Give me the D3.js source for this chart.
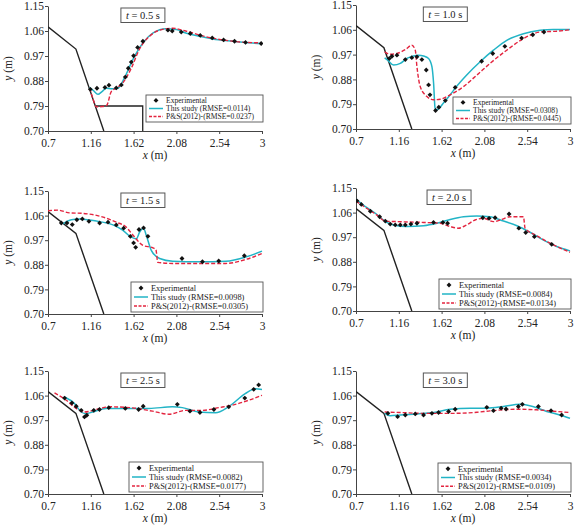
<!DOCTYPE html>
<html>
<head>
<meta charset="utf-8">
<script src="https://cdn.jsdelivr.net/npm/d3@7"></script>
<style>
  body { margin: 0; background: #fff; }
  text { font-family: "Liberation Serif", "DejaVu Serif", serif; fill: #222; }
</style>
</head>
<body>
<svg id="chart" width="583" height="526"></svg>
<script>
// ---- data ----
const xTicks = [0.7, 1.16, 1.62, 2.08, 2.54, 3];
const yTicks = [0.70, 0.79, 0.88, 0.97, 1.06, 1.15];
const times = ['0.5', '1.0', '1.5', '2.0', '2.5', '3.0'];
const rmseThis = ['0.0114', '0.0308', '0.0098', '0.0084', '0.0082', '0.0034'];
const rmsePS = ['0.0237', '0.0445', '0.0305', '0.0134', '0.0177', '0.0109'];

// bed profile (same in every panel) and the step drawn at t = 0.5 s
const bed = [[0.7, 1.075], [1.0, 0.995], [1.30, 0.70]];
const step05 = [[1.205, 0.79], [1.718, 0.79], [1.718, 0.70]];

const exp05 = [[1.155,0.850],[1.226,0.854],[1.312,0.857],[1.355,0.865],[1.434,0.855],[1.488,0.866],[1.531,0.894],[1.563,0.926],[1.595,0.948],[1.62,0.971],[1.663,1.001],[1.72,1.023],[1.989,1.063],[2.035,1.06],[2.132,1.056],[2.229,1.051],[2.336,1.044],[2.465,1.035],[2.587,1.028],[2.705,1.023],[2.823,1.019],[2.991,1.015]];
const this05 = [[1.147,0.857],[1.19,0.845],[1.237,0.832],[1.28,0.842],[1.326,0.854],[1.39,0.852],[1.45,0.854],[1.52,0.89],[1.61,0.956],[1.72,1.017],[1.83,1.053],[1.97,1.068],[2.08,1.065],[2.18,1.053],[2.33,1.041],[2.47,1.031],[2.69,1.023],[3.0,1.014]];
const ps05 = [[1.147,0.855],[1.18,0.82],[1.22,0.787],[1.28,0.788],[1.33,0.792],[1.38,0.842],[1.43,0.854],[1.5,0.872],[1.595,0.926],[1.68,0.993],[1.79,1.041],[1.9,1.063],[2.04,1.07],[2.18,1.06],[2.4,1.039],[2.69,1.023],[3.0,1.017]];

const exp10 = [[1.058,0.956],[1.086,0.964],[1.14,0.968],[1.23,0.952],[1.3,0.959],[1.355,0.962],[1.408,0.952],[1.455,0.914],[1.48,0.86],[1.495,0.824],[1.555,0.767],[1.59,0.779],[1.66,0.803],[1.766,0.851],[2.05,0.946],[2.17,0.974],[2.3,1.0],[2.48,1.03],[2.6,1.042],[2.72,1.052]];
const this10 = [[1.008,0.958],[1.04,0.95],[1.104,0.932],[1.176,0.938],[1.247,0.956],[1.319,0.965],[1.372,0.968],[1.426,0.965],[1.48,0.956],[1.516,0.926],[1.534,0.866],[1.55,0.776],[1.57,0.77],[1.64,0.794],[1.712,0.824],[1.78,0.854],[1.89,0.896],[2.034,0.944],[2.177,0.986],[2.32,1.022],[2.5,1.046],[2.68,1.058],[2.82,1.061],[3.0,1.061]];
const ps10 = [[1.008,0.98],[1.068,0.971],[1.14,0.974],[1.23,0.988],[1.3,1.004],[1.337,0.986],[1.355,0.926],[1.39,0.854],[1.462,0.818],[1.534,0.806],[1.605,0.808],[1.712,0.824],[1.855,0.854],[2.0,0.896],[2.14,0.938],[2.32,0.986],[2.5,1.028],[2.68,1.052],[2.86,1.055],[3.0,1.06]];

const exp15 = [[0.843,1.033],[0.904,1.033],[0.961,1.027],[1.01,1.045],[1.069,1.048],[1.14,1.039],[1.255,1.033],[1.345,1.036],[1.434,1.026],[1.513,1.014],[1.585,0.984],[1.62,0.96],[1.642,0.944],[1.678,1.009],[1.727,1.015],[1.774,0.984],[2.14,0.903],[2.36,0.891],[2.535,0.894],[2.81,0.913]];
const this15 = [[0.861,1.03],[0.951,1.045],[1.04,1.048],[1.148,1.044],[1.255,1.038],[1.398,1.026],[1.506,1.006],[1.595,0.981],[1.649,0.975],[1.685,1.0],[1.727,1.014],[1.756,0.988],[1.81,0.933],[1.9,0.903],[2.04,0.893],[2.33,0.891],[2.61,0.893],[2.83,0.909],[3.0,0.93]];
const ps15 = [[0.7,1.078],[0.807,1.08],[0.93,1.07],[1.076,1.068],[1.255,1.058],[1.434,1.036],[1.54,1.018],[1.61,0.99],[1.72,0.951],[1.828,0.942],[1.86,0.935],[1.88,0.889],[2.04,0.885],[2.33,0.885],[2.61,0.885],[2.83,0.9],[3.0,0.921]];

const exp20 = [[0.71,1.103],[0.757,1.09],[0.854,1.065],[0.954,1.045],[1.015,1.029],[1.068,1.018],[1.122,1.015],[1.176,1.015],[1.23,1.015],[1.29,1.018],[1.355,1.021],[1.533,1.024],[1.634,1.024],[1.684,1.021],[2.063,1.041],[2.13,1.039],[2.195,1.041],[2.345,1.055],[2.45,1.003],[2.524,0.987],[2.617,0.972],[2.803,0.944]];
const this20 = [[0.7,1.109],[0.818,1.078],[0.925,1.053],[1.015,1.027],[1.104,1.015],[1.247,1.009],[1.426,1.012],[1.57,1.021],[1.712,1.035],[1.855,1.045],[2.0,1.048],[2.14,1.045],[2.285,1.029],[2.43,1.012],[2.57,0.988],[2.71,0.96],[2.857,0.936],[3.0,0.92]];
const ps20 = [[0.7,1.102],[0.818,1.075],[0.925,1.051],[1.015,1.029],[1.14,1.027],[1.426,1.024],[1.605,1.021],[1.712,1.009],[1.8,1.003],[1.89,1.015],[1.98,1.033],[2.07,1.039],[2.177,1.027],[2.25,1.033],[2.36,1.045],[2.5,1.045],[2.517,1.003],[2.64,0.976],[2.785,0.948],[3.0,0.915]];

const exp25 = [[0.878,1.051],[0.957,1.033],[1.003,1.021],[1.057,1.006],[1.092,0.982],[1.117,0.988],[1.192,1.006],[1.253,1.009],[1.353,1.016],[1.531,1.013],[1.674,1.009],[1.723,1.021],[2.09,1.028],[2.226,1.003],[2.333,0.998],[2.483,1.009],[2.643,1.019],[2.815,1.051],[2.911,1.083],[2.964,1.099]];
const this25 = [[0.878,1.055],[0.985,1.031],[1.057,1.0],[1.11,0.994],[1.18,1.0],[1.324,1.013],[1.538,1.013],[1.788,1.013],[2.037,1.019],[2.144,1.016],[2.32,1.0],[2.5,0.997],[2.64,1.019],[2.82,1.067],[2.93,1.085],[3.0,1.082]];
const ps25 = [[0.77,1.07],[0.896,1.043],[1.003,1.013],[1.092,1.0],[1.217,1.009],[1.36,1.019],[1.61,1.015],[1.823,1.003],[2.0,0.992],[2.18,1.006],[2.358,1.006],[2.537,1.016],[2.68,1.025],[2.857,1.043],[3.0,1.061]];

const exp30 = [[1.043,0.995],[1.147,0.983],[1.23,0.989],[1.337,0.993],[1.426,0.989],[1.516,0.995],[1.587,0.998],[1.695,1.002],[1.766,1.01],[2.106,1.017],[2.177,1.005],[2.26,1.014],[2.313,1.011],[2.445,1.02],[2.488,1.028],[2.66,1.02],[2.796,1.005],[2.91,0.989]];
const this30 = [[1.008,0.995],[1.068,0.986],[1.176,0.989],[1.355,0.993],[1.534,0.998],[1.712,1.01],[1.927,1.014],[2.106,1.014],[2.285,1.02],[2.46,1.028],[2.6,1.02],[2.75,1.002],[2.89,0.989],[3.0,0.977]];
const ps30 = [[1.008,1.0],[1.176,0.998],[1.426,0.995],[1.712,0.995],[2.0,0.999],[2.14,1.004],[2.43,1.01],[2.64,1.008],[2.82,1.003],[3.0,0.998]];

const expSets = [exp05, exp10, exp15, exp20, exp25, exp30];
const thisSets = [this05, this10, this15, this20, this25, this30];
const psSets = [ps05, ps10, ps15, ps20, ps25, ps30];

// ---- layout of the six panels (pixels) ----
const panels = [
  { x0: 48,  x1: 262, y0: 6,   y1: 131, lw: 117, lh: 27, lfs: 7.6, lb: 9, tx: 1.72 },
  { x0: 356, x1: 570, y0: 5,   y1: 129, lw: 118, lh: 27, lfs: 7.6, lb: 5, tx: 1.66 },
  { x0: 48,  x1: 262, y0: 191, y1: 314, lw: 132, lh: 30, lfs: 8.4, lb: 2, tx: 1.72 },
  { x0: 356, x1: 570, y0: 188, y1: 311, lw: 132, lh: 30, lfs: 8.4, lb: 2, tx: 1.70 },
  { x0: 48,  x1: 262, y0: 371, y1: 494, lw: 134, lh: 30, lfs: 8.4, lb: 2, tx: 1.72 },
  { x0: 356, x1: 570, y0: 371, y1: 494, lw: 133, lh: 29, lfs: 8.4, lb: 2, tx: 1.66 }
];

const cyan = '#22b4c6';
const red = '#e3243f';
const marker = d3.symbol(d3.symbolDiamond2, 15);

const svg = d3.select('#chart');

panels.forEach((p, i) => {
  const x = d3.scaleLinear().domain([0.7, 3]).range([p.x0, p.x1]);
  const y = d3.scaleLinear().domain([0.70, 1.15]).range([p.y1, p.y0]);
  const g = svg.append('g');

  g.append('clipPath').attr('id', 'clip' + i)
    .append('rect')
    .attr('x', p.x0).attr('y', p.y0 - 2)
    .attr('width', p.x1 - p.x0 + 1).attr('height', p.y1 - p.y0 + 2);

  // axes
  const xAxis = d3.axisBottom(x).tickValues(xTicks).tickSize(3).tickSizeOuter(0)
    .tickFormat(d => String(d));
  const yAxis = d3.axisLeft(y).tickValues(yTicks).tickSize(3).tickSizeOuter(0)
    .tickFormat(d3.format('.2f'));

  const gx = g.append('g').attr('transform', `translate(0,${p.y1})`).call(xAxis);
  const gy = g.append('g').attr('transform', `translate(${p.x0},0)`).call(yAxis);
  [gx, gy].forEach(a => {
    a.select('.domain').attr('stroke', '#444').attr('stroke-width', 1);
    a.selectAll('.tick line').attr('stroke', '#444');
    a.selectAll('.tick text')
      .attr('font-family', '"Liberation Serif", serif')
      .attr('font-size', 11.5).attr('fill', '#333');
  });
  gx.selectAll('.tick text').attr('dy', '0.9em');
  gy.selectAll('.tick text').attr('x', -4);

  // axis titles
  const xl = g.append('text')
    .attr('x', (p.x0 + p.x1) / 2).attr('y', p.y1 + 28)
    .attr('text-anchor', 'middle').attr('font-size', 11.5);
  xl.append('tspan').attr('font-style', 'italic').text('x');
  xl.append('tspan').text(' (m)');

  const yl = g.append('text')
    .attr('transform', `translate(${p.x0 - 36},${(p.y0 + p.y1) / 2}) rotate(-90)`)
    .attr('text-anchor', 'middle').attr('font-size', 11.5);
  yl.append('tspan').attr('font-style', 'italic').text('y');
  yl.append('tspan').text(' (m)');

  const plot = g.append('g').attr('clip-path', `url(#clip${i})`);
  const line = d3.line().x(d => x(d[0])).y(d => y(d[1]));
  const smooth = d3.line().x(d => x(d[0])).y(d => y(d[1])).curve(d3.curveMonotoneX);

  // bed
  plot.append('path').datum(bed).attr('d', line)
    .attr('fill', 'none').attr('stroke', '#222').attr('stroke-width', 1.4);
  if (i === 0) {
    plot.append('path').datum(step05).attr('d', line)
      .attr('fill', 'none').attr('stroke', '#222').attr('stroke-width', 1.3);
  }

  // model lines
  plot.append('path').datum(thisSets[i]).attr('d', smooth)
    .attr('fill', 'none').attr('stroke', cyan).attr('stroke-width', 1.5);
  plot.append('path').datum(psSets[i]).attr('d', smooth)
    .attr('fill', 'none').attr('stroke', red).attr('stroke-width', 1.4)
    .attr('stroke-dasharray', '4,2');

  // experimental points
  plot.selectAll('.pt').data(expSets[i]).enter().append('path')
    .attr('class', 'pt')
    .attr('transform', d => `translate(${x(d[0])},${y(d[1])})`)
    .attr('d', marker)
    .attr('fill', '#111');

  // time box
  const tcx = x(p.tx);
  g.append('rect')
    .attr('x', tcx - 22).attr('y', p.y0 + 2)
    .attr('width', 44).attr('height', 14.5)
    .attr('fill', '#fff').attr('stroke', '#555').attr('stroke-width', 1);
  const tt = g.append('text')
    .attr('x', tcx).attr('y', p.y0 + 13)
    .attr('text-anchor', 'middle').attr('font-size', 10.5);
  tt.append('tspan').attr('font-style', 'italic').text('t');
  tt.append('tspan').text(' = ' + times[i] + ' s');

  // legend
  const lx = p.x1 + 1 - p.lw;
  const ly = p.y1 - p.lb - p.lh;
  const lg = g.append('g').attr('transform', `translate(${lx},${ly})`);
  lg.append('rect').attr('width', p.lw).attr('height', p.lh)
    .attr('fill', '#fff').attr('stroke', '#555').attr('stroke-width', 0.9);
  const rows = [
    'Experimental',
    `This study (RMSE=${rmseThis[i]})`,
    `P&S(2012)-(RMSE=${rmsePS[i]})`
  ];
  rows.forEach((label, r) => {
    const cy = p.lh * (0.2 + 0.3 * r);
    if (r === 0) {
      lg.append('path').attr('transform', `translate(10,${cy})`)
        .attr('d', marker).attr('fill', '#111');
    } else {
      lg.append('line').attr('x1', 3).attr('x2', 17).attr('y1', cy).attr('y2', cy)
        .attr('stroke', r === 1 ? cyan : red).attr('stroke-width', 1.5)
        .attr('stroke-dasharray', r === 2 ? '3,1.5' : null);
    }
    lg.append('text').attr('x', 20).attr('y', cy + p.lfs * 0.33)
      .attr('font-size', p.lfs).text(label);
  });
});
</script>
</body>
</html>
